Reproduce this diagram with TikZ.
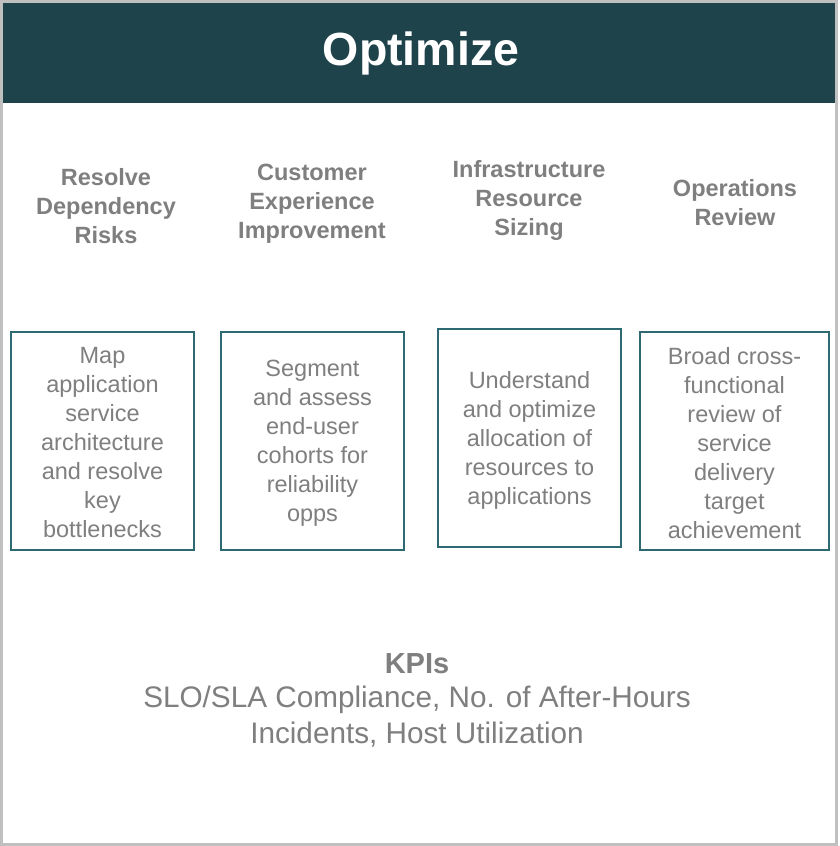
\documentclass[tikz,border=0pt]{standalone}
\usepackage{fontspec}
\setmainfont{Liberation Sans}
\definecolor{headbg}{HTML}{1E434A}
\definecolor{boxline}{HTML}{2E6871}
\definecolor{txtgray}{HTML}{7F7F7F}
\definecolor{outergray}{HTML}{C0C0C0}
\begin{document}
\begin{tikzpicture}[x=1pt,y=-1pt,
  heading/.style={align=center,inner sep=0pt,text=txtgray,font=\fontsize{23.5}{29}\selectfont\bfseries},
  card/.style={draw=boxline,line width=2pt,minimum width=183pt,minimum height=218pt,inner sep=0pt},
  cardtext/.style={align=center,inner sep=0pt,text=txtgray,font=\fontsize{23.5}{29}\selectfont},
  kpitext/.style={align=center,inner sep=0pt,text=txtgray,font=\fontsize{29.7}{36}\selectfont}]
\useasboundingbox (0,0) rectangle (840,846);
\fill[white] (0,0) rectangle (840,846);
\fill[headbg] (3,3) rectangle (837,102.5);
\node[text=white,font=\fontsize{46.5}{56}\selectfont\bfseries,inner sep=0pt,anchor=base] (title) at (421,65) {Optimize};
\draw[outergray,line width=3pt] (1.5,1.5) rectangle (836,844.5);

\node[heading] (h1) at (106,206) {Resolve\\Dependency\\Risks};
\node[heading] (h2) at (312,204) {Customer\\Experience\\Improvement};
\node[heading] (h3) at (529,200) {Infrastructure\\Resource\\Sizing};
\node[heading] (h4) at (735,203) {Operations\\Review};

\node[card] (b1) at (102.5,441) {};
\node[card] (b2) at (312.5,441) {};
\node[card] (b3) at (529.5,438) {};
\node[card,minimum width=189pt] (b4) at (734.5,441) {};

\node[cardtext] (t1) at ([yshift=-2pt]b1.center) {Map\\application\\service\\architecture\\and resolve\\key\\bottlenecks};
\node[cardtext] (t2) at ([yshift=-2pt]b2.center) {Segment\\and assess\\end-user\\cohorts for\\reliability\\opps};
\node[cardtext] (t3) at ([yshift=-2pt]b3.center) {Understand\\and optimize\\allocation of\\resources to\\applications};
\node[cardtext] (t4) at ([yshift=-2pt]b4.center) {Broad cross-\\functional\\review of\\service\\delivery\\target\\achievement};

\node[kpitext,font=\fontsize{29}{36}\selectfont\bfseries] (kpi) at (417,664) {KPIs};
\node[kpitext] (kpil) at (417,717) {SLO/SLA Compliance, No. of After-Hours\\Incidents, Host Utilization};
\end{tikzpicture}
\end{document}
